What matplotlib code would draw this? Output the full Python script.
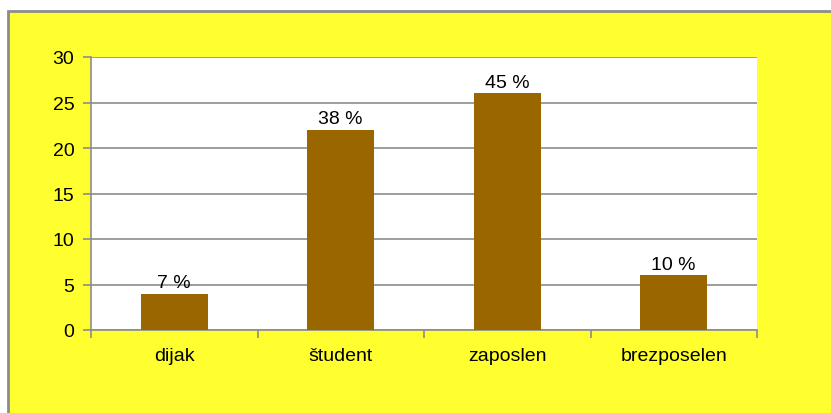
import matplotlib
matplotlib.use("Agg")
import matplotlib.pyplot as plt
from matplotlib.patches import Rectangle
import numpy as np

categories = ["dijak", "študent", "zaposlen", "brezposelen"]
counts = [4, 22, 26, 6]
shares = ["7 %", "38 %", "45 %", "10 %"]

plt.rcParams['font.family'] = ['Liberation Sans', 'DejaVu Sans']
fs = 14

fig = plt.figure(figsize=(8.31, 4.14), dpi=100)
fig.patch.set_facecolor("white")

# yellow chart area with gray frame
frame = Rectangle((8 / 831, -0.01), 1, 1.01 - 12 / 414, transform=fig.transFigure,
                  facecolor="#FFFF30", edgecolor="#8c8c8c", linewidth=2, zorder=-10)
fig.add_artist(frame)

ax = fig.add_axes([91 / 831, (414 - 331) / 414, 666 / 831, 273 / 414])
ax.set_facecolor("white")

x = np.arange(len(categories))
ax.bar(x, counts, width=0.4, color="#996600", zorder=3)
for xi, c, s in zip(x, counts, shares):
    ax.text(xi, c + 0.3, s, ha="center", va="bottom", fontsize=fs)

ax.set_xlim(-0.5, len(categories) - 0.5)
ax.set_ylim(0, 30)
ax.set_yticks(range(0, 31, 5))
ax.yaxis.grid(True, color="#8c8c8c", linewidth=1.2, zorder=0)
ax.set_axisbelow(True)

ax.set_xticks(x)
ax.set_xticklabels(categories, fontsize=fs)
ax.tick_params(axis="x", length=0, pad=12)
ax.set_xticks(np.arange(-0.5, len(categories)), minor=True)
ax.tick_params(axis="x", which="minor", length=6, color="#8c8c8c", width=1.2)
ax.tick_params(axis="y", labelsize=fs, length=6, color="#8c8c8c", width=1.2, pad=6)

for side in ["top", "right"]:
    ax.spines[side].set_visible(False)
for side in ["left", "bottom"]:
    ax.spines[side].set_color("#8c8c8c")
    ax.spines[side].set_linewidth(1.2)

fig.savefig("out.png", dpi=100)
